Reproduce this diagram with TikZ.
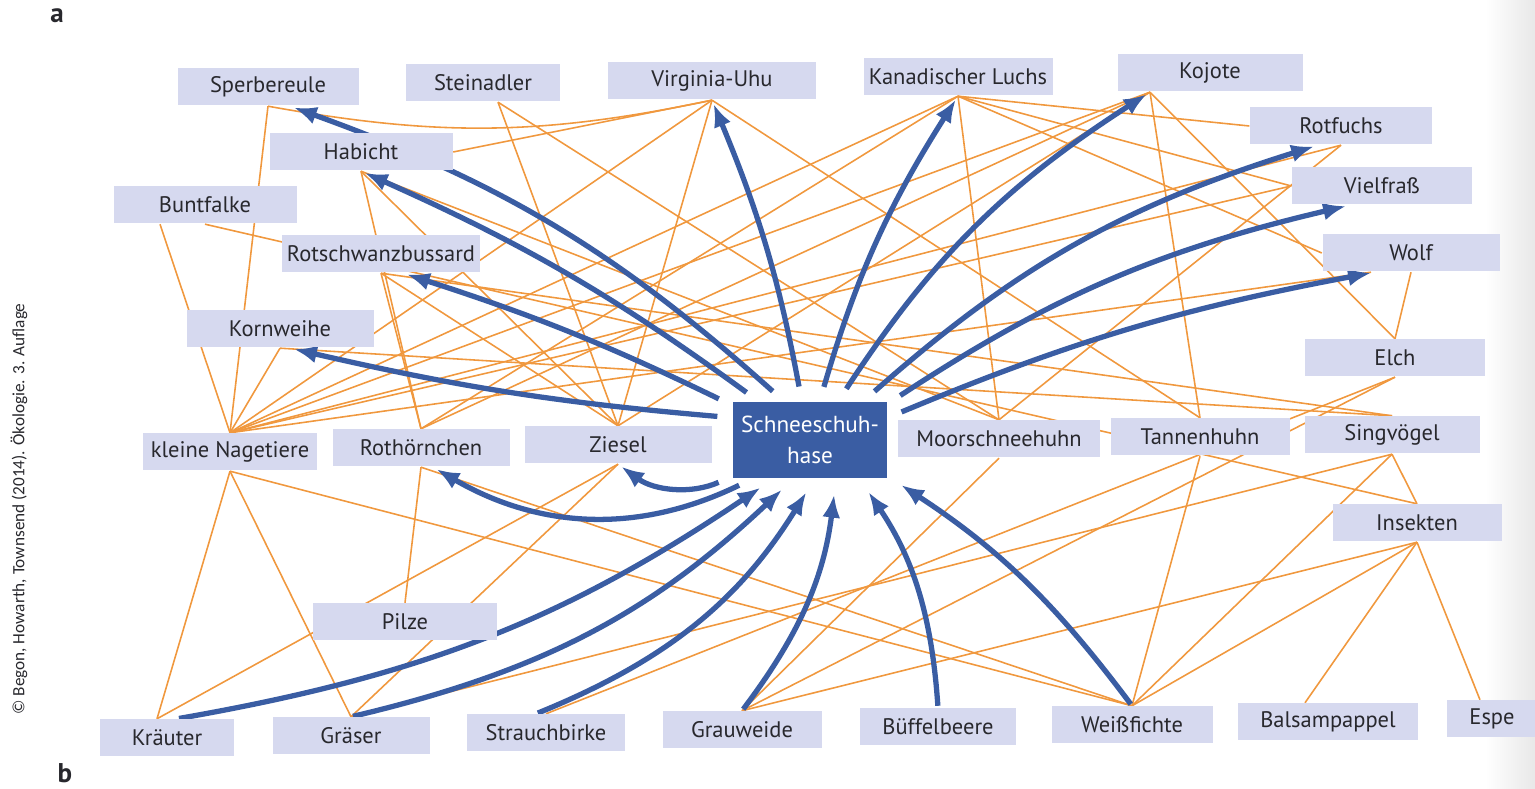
\documentclass[tikz,border=0pt]{standalone}
\usepackage{fontspec}
\setmainfont{PT Sans}
\newfontfamily\notefont{Carlito}
\usetikzlibrary{arrows.meta,backgrounds}

\definecolor{boxfill}{RGB}{214,217,239}
\definecolor{hareblue}{RGB}{58,93,163}
\definecolor{linkorange}{RGB}{240,152,62}
\definecolor{labelgray}{RGB}{40,40,45}

\tikzset{
	species/.style={rectangle, fill=boxfill, minimum height=0.37cm, inner sep=1pt, text=labelgray, font=\fontsize{6.4}{7.5}\selectfont},
	feeds/.style={draw=linkorange, line width=0.45pt},
	eaten/.style={draw=hareblue, line width=1.5pt, -{Latex[length=2.3mm,width=1.8mm]}},
}

\begin{document}
\begin{tikzpicture}
		\useasboundingbox (0,0) rectangle (15.35,-7.89);
		\shade[left color=white, right color=black!9] (14.85,0) rectangle (15.35,-7.89);

		\node (parta) [font=\bfseries\fontsize{7.7}{9}\selectfont, text=labelgray] at (0.57,-0.16) {a};
		\node (partb) [font=\bfseries\fontsize{7.7}{9}\selectfont, text=labelgray, anchor=base, inner sep=0pt] at (0.65,-7.83) {b};
		\node (source) [rotate=90, font=\notefont\fontsize{4.9}{6}\selectfont, text=labelgray] at (0.19,-5.09) {© Begon, Howarth, Townsend (2014). Ökologie. 3. Auflage};

		% predators
		\node (sperbereule) [species, minimum width=1.81cm] at (2.68,-0.87) {Sperbereule};
		\node (steinadler) [species, minimum width=1.54cm] at (4.83,-0.83) {Steinadler};
		\node (virginiauhu) [species, minimum width=2.08cm] at (7.12,-0.81) {Virginia-Uhu};
		\node (luchs) [species, minimum width=1.89cm] at (9.58,-0.77) {Kanadischer Luchs};
		\node (kojote) [species, minimum width=1.85cm] at (12.10,-0.73) {Kojote};
		\node (rotfuchs) [species, minimum width=1.82cm] at (13.41,-1.26) {Rotfuchs};
		\node (vielfrass) [species, minimum width=1.80cm] at (13.82,-1.86) {Vielfraß};
		\node (wolf) [species, minimum width=1.77cm] at (14.11,-2.53) {Wolf};
		\node (habicht) [species, minimum width=1.83cm] at (3.61,-1.52) {Habicht};
		\node (buntfalke) [species, minimum width=1.83cm] at (2.05,-2.05) {Buntfalke};
		\node (rotschwanz) [species, minimum width=1.98cm] at (3.81,-2.54) {Rotschwanzbussard};
		\node (kornweihe) [species, minimum width=1.87cm] at (2.80,-3.29) {Kornweihe};

		% herbivores
		\node (elch) [species, minimum width=1.80cm] at (13.95,-3.58) {Elch};
		\node (nagetiere) [species, minimum width=1.74cm] at (2.30,-4.52) {kleine Nagetiere};
		\node (rothoernchen) [species, minimum width=1.77cm] at (4.21,-4.48) {Rothörnchen};
		\node (ziesel) [species, minimum width=1.87cm] at (6.18,-4.45) {Ziesel};
		\node (hase) [rectangle, fill=hareblue, text=white, minimum width=1.54cm, minimum height=0.76cm, inner sep=1.5pt, align=center, font=\fontsize{6.6}{8.6}\selectfont] at (8.10,-4.40) {Schneeschuh-\\hase};
		\node (moorschneehuhn) [species, minimum width=2.02cm] at (9.99,-4.39) {Moorschneehuhn};
		\node (tannenhuhn) [species, minimum width=1.79cm] at (12.00,-4.37) {Tannenhuhn};
		\node (singvoegel) [species, minimum width=1.75cm] at (13.92,-4.35) {Singvögel};
		\node (insekten) [species, minimum width=1.69cm] at (14.17,-5.23) {Insekten};

		% plants and fungi
		\node (pilze) [species, minimum width=1.84cm] at (4.05,-6.22) {Pilze};
		\node (kraeuter) [species, minimum width=1.34cm] at (1.67,-7.38) {Kräuter};
		\node (graeser) [species, minimum width=1.57cm] at (3.51,-7.36) {Gräser};
		\node (strauchbirke) [species, minimum width=1.58cm] at (5.46,-7.33) {Strauchbirke};
		\node (grauweide) [species, minimum width=1.59cm] at (7.42,-7.30) {Grauweide};
		\node (bueffelbeere) [species, minimum width=1.56cm] at (9.38,-7.27) {Büffelbeere};
		\node (weissfichte) [species, minimum width=1.61cm] at (11.32,-7.25) {Weißfichte};
		\node (balsampappel) [species, minimum width=1.80cm] at (13.28,-7.22) {Balsampappel};
		\node (espe) [species, minimum width=0.90cm] at (14.92,-7.19) {Espe};

		\begin{scope}[on background layer]
		% Links
		\draw[feeds] (sperbereule.south) -- (nagetiere.north);
		\draw[feeds] (sperbereule.south) to[bend right=11] (virginiauhu.south);
		\draw[feeds] (habicht.east) -- (virginiauhu.south);
		\draw[feeds] ([xshift=-4.5mm]buntfalke.south) -- (nagetiere.north);
		\draw[feeds] (buntfalke.south) -- (insekten.north);
		\draw[feeds] (habicht.south) -- (ziesel.north);
		\draw[feeds] (habicht.south) -- (rothoernchen.north);
		\draw[feeds] (habicht.south) -- (moorschneehuhn.north);
		\draw[feeds] (rotschwanz.south) -- (rothoernchen.north);
		\draw[feeds] (rotschwanz.south) -- (ziesel.north);
		\draw[feeds] (rotschwanz.south) -- (singvoegel.north);
		\draw[feeds] (kornweihe.south) -- (nagetiere.north);
		\draw[feeds] (kornweihe.south) -- (singvoegel.north);
		\draw[feeds] ([xshift=1.5mm]steinadler.south) -- (ziesel.north);
		\draw[feeds] ([xshift=1.5mm]steinadler.south) -- (moorschneehuhn.north);
		\draw[feeds] (virginiauhu.south) -- (nagetiere.north);
		\draw[feeds] (virginiauhu.south) -- (ziesel.north);
		\draw[feeds] (virginiauhu.south) -- (tannenhuhn.north);
		\draw[feeds] (luchs.south) -- (nagetiere.north);
		\draw[feeds] (luchs.south) -- (rothoernchen.north);
		\draw[feeds] (luchs.south) -- (moorschneehuhn.north);
		\draw[feeds] (luchs.south) -- (rotfuchs.west);
		\draw[feeds] (luchs.south) -- (vielfrass.west);
		\draw[feeds] (luchs.south) -- (wolf.west);
		\draw[feeds] ([xshift=-6mm]kojote.south) -- (nagetiere.north);
		\draw[feeds] ([xshift=-6mm]kojote.south) -- (rothoernchen.north);
		\draw[feeds] ([xshift=-6mm]kojote.south) -- (ziesel.north);
		\draw[feeds] ([xshift=-6mm]kojote.south) -- (tannenhuhn.north);
		\draw[feeds] ([xshift=-6mm]kojote.south) -- (elch.north);
		\draw[feeds] (rotfuchs.south) -- (moorschneehuhn.north);
		\draw[feeds] (rotfuchs.south) -- (nagetiere.north);
		\draw[feeds] (nagetiere.north) -- (vielfrass.west);
		\draw[feeds] (nagetiere.north) -- ([xshift=-4mm]wolf.south);
		\draw[feeds] (wolf.south) -- (elch.north);
		\draw[feeds] (singvoegel.south) -- (insekten.north);

		\draw[feeds] (nagetiere.south) -- ([xshift=-1mm]kraeuter.north);
		\draw[feeds] (nagetiere.south) -- (graeser.north);
		\draw[feeds] (nagetiere.south) -- (weissfichte.north);
		\draw[feeds] (rothoernchen.south) -- (pilze.north);
		\draw[feeds] (rothoernchen.south) -- (weissfichte.north);
		\draw[feeds] (ziesel.south) -- ([xshift=-1mm]kraeuter.north);
		\draw[feeds] (ziesel.south) -- (graeser.north);
		\draw[feeds] (moorschneehuhn.south) -- (grauweide.north);
		\draw[feeds] (tannenhuhn.south) -- (weissfichte.north);
		\draw[feeds] (singvoegel.south) -- (graeser.north);
		\draw[feeds] (singvoegel.south) -- (weissfichte.north);
		\draw[feeds] (elch.south) -- (grauweide.north);
		\draw[feeds] (elch.south) -- (strauchbirke.north);
		\draw[feeds] (insekten.south) -- (grauweide.north);
		\draw[feeds] (insekten.south) -- (weissfichte.north);
		\draw[feeds] (insekten.south) -- ([xshift=-2.3mm]balsampappel.north);
		\draw[feeds] (insekten.south) -- ([xshift=-1.2mm]espe.north);

		% Arrows
		\begin{scope}[shorten <=1.5mm, shorten >=0.4mm]
		\draw[eaten] (hase.124) to[bend right=11] ([xshift=2.2mm]sperbereule.south);
		\draw[eaten] (hase.143) to[bend right=6] (habicht.south);
		\draw[eaten] (hase.156) to[bend right=4] ([xshift=2.2mm]rotschwanz.south);
		\draw[eaten] (hase.164) to[bend left=4] ([xshift=1mm]kornweihe.south);
		\draw[eaten] (hase.102) to[bend right=6] (virginiauhu.south);
		\draw[eaten] (hase.76) to[bend left=8] (luchs.south);
		\draw[eaten] (hase.54) to[bend left=12] ([xshift=-6mm]kojote.south);
		\draw[eaten] (hase.36) to[bend left=12] ([xshift=-2.3mm]rotfuchs.south);
		\draw[eaten] (hase.25) to[bend left=10] ([xshift=-3.2mm]vielfrass.south);
		\draw[eaten] (hase.16) to[bend left=6] ([xshift=-3.6mm]wolf.south);
		\draw[eaten] (hase.214) to[bend left=28] ([xshift=1.2mm]rothoernchen.south);
		\draw[eaten] (hase.205) to[bend left=30] (ziesel.south);
		\end{scope}
		\begin{scope}[shorten <=0.2mm, shorten >=1.6mm]
		\draw[eaten] ([xshift=1mm]kraeuter.north) to[bend right=12] (hase.227);
		\draw[eaten] (graeser.north) to[bend right=15] (hase.247);
		\draw[eaten] ([xshift=-1mm]strauchbirke.north) to[bend right=18] (hase.277);
		\draw[eaten] (grauweide.north) to[bend right=15] (hase.304);
		\draw[eaten] (bueffelbeere.north) to[bend right=15] (hase.322);
		\draw[eaten] (weissfichte.north) to[bend right=10] (hase.335);
		\end{scope}
		\end{scope}
	\end{tikzpicture}
\end{document}
